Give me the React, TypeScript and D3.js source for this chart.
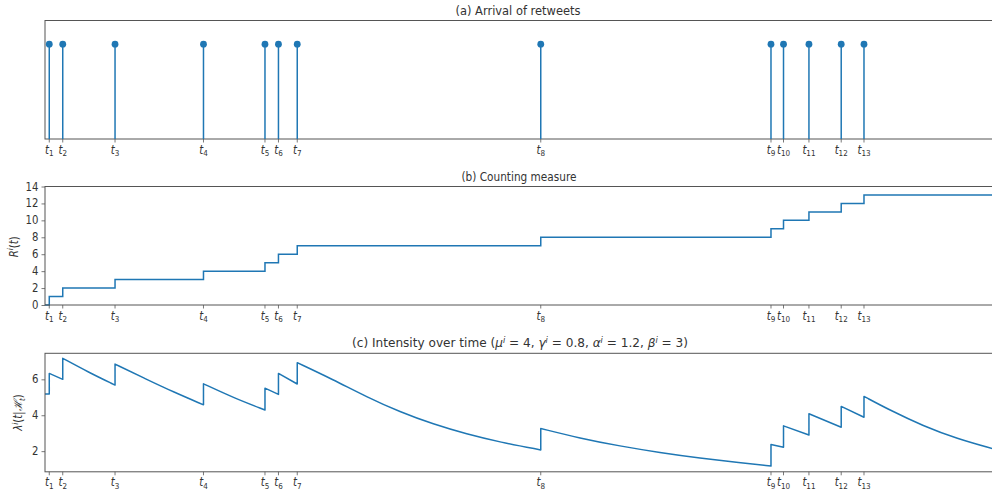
import React, { useEffect, useRef } from 'react';
import * as d3 from 'd3';

// Figure size and the three stacked panels
const W = 992;
const H = 494;
const plotLeft = 45;
const plotRight = 994; // right spine falls just outside the picture
const panelTops = [20.5, 186.5, 353.3];
const panelHeight = 118.5;
const blue = '#1f77b4';
const spine = '#555';
const squeeze = 0.88; // text in the picture is horizontally condensed

// Arrival times of the retweets (x axis units, 0..100)
const eventTimes = [0.45, 1.87, 7.38, 16.7, 23.18, 24.6, 26.58, 52.24, 76.5, 77.82, 80.5, 83.9, 86.3];
const eventLabels = ['1', '2', '3', '4', '5', '6', '7', '8', '9', '10', '11', '12', '13'];
const xDomain = [0, 100];

// (b) counting measure
const counts = [1, 2, 3, 4, 5, 6, 7, 8, 9, 10, 11, 12, 13];
const countTicks = [0, 2, 4, 6, 8, 10, 12, 14];
const countDomain = [0, 14];

// (c) intensity; repeated x = jump at an arrival
const intensityPoints: [number, number][] = [
    [0, 5.18], [0.45, 5.18],
    [0.45, 6.33], [1.87, 6.0],
    [1.87, 7.17], [4.64, 6.38], [7.38, 5.68],
    [7.38, 6.85], [10.5, 6.05], [13.6, 5.28], [16.7, 4.58],
    [16.7, 5.75], [19.92, 4.96], [23.18, 4.29],
    [23.18, 5.51], [24.6, 5.16],
    [24.6, 6.33], [26.58, 5.74],
    [26.58, 6.93], [30.38, 5.98], [33.9, 5.02], [37.41, 4.18], [40.92, 3.5], [44.44, 2.95], [47.95, 2.5], [52.24, 2.07],
    [52.24, 3.26], [56.37, 2.72], [60.59, 2.28], [64.8, 1.92], [69.02, 1.61], [73.23, 1.35], [76.5, 1.17],
    [76.5, 2.37], [77.82, 2.22],
    [77.82, 3.41], [80.5, 2.9],
    [80.5, 4.08], [83.9, 3.33],
    [83.9, 4.49], [86.3, 3.89],
    [86.3, 5.05], [89.04, 4.28], [92.55, 3.4], [96.07, 2.7], [100, 2.12]
];
const intensityTicks = [2, 4, 6];
const intensityDomain = [0.85, 7.45];

const App = () => {
    const svgRef = useRef<SVGSVGElement>(null);

    useEffect(() => {
        const svg = d3.select(svgRef.current);
        svg.selectAll('*').remove();

        const x = d3.scaleLinear().domain(xDomain).range([plotLeft, plotRight]);

        // text helper: horizontal squeeze around the anchor point
        const addText = (g: any, tx: number, ty: number, anchor: string, size: number, rotate = 0) =>
            g.append('text')
                .attr('transform', `translate(${tx},${ty}) rotate(${rotate}) scale(${squeeze},1)`)
                .attr('text-anchor', anchor)
                .style('font-family', 'DejaVu Sans, sans-serif')
                .style('font-size', `${size}px`)
                .style('fill', '#333');

        // titles: fit the measured width from the picture
        const fitWidth = (t: any, tx: number, ty: number, width: number) => {
            const len = (t.node() as SVGTextElement).getComputedTextLength();
            t.attr('transform', `translate(${tx},${ty}) scale(${width / len},1)`);
        };

        svg.append('defs').append('clipPath').attr('id', 'plotclip')
            .append('rect').attr('x', plotLeft).attr('y', 0).attr('width', plotRight - plotLeft).attr('height', H);

        const drawFrame = (top: number) => {
            svg.append('rect')
                .attr('x', plotLeft).attr('y', top)
                .attr('width', plotRight - plotLeft).attr('height', panelHeight)
                .attr('fill', 'none').attr('stroke', spine).attr('stroke-width', 1);
        };

        const drawEventAxis = (top: number) => {
            const base = top + panelHeight;
            eventTimes.forEach((t, i) => {
                svg.append('line')
                    .attr('x1', x(t)).attr('x2', x(t))
                    .attr('y1', base).attr('y2', base + 3.5)
                    .attr('stroke', spine).attr('stroke-width', 0.8);
                const lab = addText(svg, x(t), base + 14.5, 'middle', 11.5);
                lab.append('tspan').style('font-style', 'italic').text('t');
                lab.append('tspan').attr('dy', 2.8).style('font-size', '8.2px').text(eventLabels[i]);
            });
        };

        const drawYAxis = (y: any, ticks: number[]) => {
            svg.append('g')
                .attr('transform', `translate(${plotLeft},0)`)
                .call(d3.axisLeft(y).tickValues(ticks).tickSize(3.5).tickPadding(2).tickFormat(d3.format('d')))
                .call((g: any) => g.select('.domain').remove())
                .call((g: any) => g.selectAll('line').attr('stroke', spine).attr('stroke-width', 0.8))
                .call((g: any) => g.selectAll('text').remove());
            ticks.forEach(v => {
                addText(svg, plotLeft - 6.5, y(v) + 4, 'end', 11.5).text(String(v));
            });
        };

        // (a) Arrival of retweets
        const topA = panelTops[0];
        const yA = d3.scaleLinear().domain([0, 1.25]).range([topA + panelHeight, topA]);
        drawFrame(topA);
        const stems = svg.append('g').attr('clip-path', 'url(#plotclip)');
        stems.selectAll('line').data(eventTimes).join('line')
            .attr('x1', d => x(d)).attr('x2', d => x(d))
            .attr('y1', yA(0)).attr('y2', yA(1))
            .attr('stroke', blue).attr('stroke-width', 1.5);
        stems.selectAll('circle').data(eventTimes).join('circle')
            .attr('cx', d => x(d)).attr('cy', yA(1)).attr('r', 3.4)
            .attr('fill', blue);
        drawEventAxis(topA);
        const titleA = addText(svg, 518, 15, 'middle', 12.5).text('(a) Arrival of retweets');
        fitWidth(titleA, 518, 15, 125);

        // (b) Counting measure
        const topB = panelTops[1];
        const yB = d3.scaleLinear().domain(countDomain).range([topB + panelHeight, topB]);
        const stepData: [number, number][] = [[xDomain[0], 0], ...eventTimes.map((t, i) => [t, counts[i]] as [number, number]), [xDomain[1], counts[counts.length - 1]]];
        const stepLine = d3.line<[number, number]>().x(d => x(d[0])).y(d => yB(d[1])).curve(d3.curveStepAfter);
        svg.append('path')
            .attr('d', stepLine(stepData))
            .attr('clip-path', 'url(#plotclip)')
            .attr('fill', 'none').attr('stroke', blue).attr('stroke-width', 1.5);
        drawFrame(topB);
        drawYAxis(yB, countTicks);
        drawEventAxis(topB);
        const titleB = addText(svg, 519, 181, 'middle', 12.5).text('(b) Counting measure');
        fitWidth(titleB, 519, 181, 115);
        const labB = addText(svg, 17.5, topB + panelHeight / 2 + 1, 'middle', 11.5, -90);
        labB.append('tspan').style('font-style', 'italic').text('R');
        labB.append('tspan').attr('dy', -4.5).style('font-size', '8px').style('font-style', 'italic').text('i');
        labB.append('tspan').attr('dy', 4.5).text('(');
        labB.append('tspan').style('font-style', 'italic').text('t');
        labB.append('tspan').text(')');

        // (c) Intensity over time
        const topC = panelTops[2];
        const yC = d3.scaleLinear().domain(intensityDomain).range([topC + panelHeight, topC]);
        // split the points at the jumps, draw each decay smoothly, then join them
        const segments: [number, number][][] = [];
        intensityPoints.forEach((p, i) => {
            if (i === 0 || p[0] === intensityPoints[i - 1][0]) segments.push([p]);
            else segments[segments.length - 1].push(p);
        });
        const decay = d3.line<[number, number]>().x(d => x(d[0])).y(d => yC(d[1])).curve(d3.curveBasis);
        const pathD = segments.map((s, i) => {
            const d = decay(s) as string;
            return i === 0 ? d : 'L' + d.slice(1);
        }).join('');
        svg.append('path')
            .attr('d', pathD)
            .attr('clip-path', 'url(#plotclip)')
            .attr('fill', 'none').attr('stroke', blue).attr('stroke-width', 1.5)
            .attr('stroke-linejoin', 'round');
        drawFrame(topC);
        drawYAxis(yC, intensityTicks);
        drawEventAxis(topC);

        const titleC = addText(svg, 520, 347, 'middle', 12.5);
        const greek = [['μ', '4'], ['γ', '0.8'], ['α', '1.2'], ['β', '3']];
        titleC.append('tspan').text('(c) Intensity over time (');
        greek.forEach(([g, v], i) => {
            titleC.append('tspan').style('font-style', 'italic').text(g);
            titleC.append('tspan').attr('dy', -4.5).style('font-size', '8.5px').style('font-style', 'italic').text('i');
            titleC.append('tspan').attr('dy', 4.5).text(` = ${v}${i < greek.length - 1 ? ', ' : ')'}`);
        });
        fitWidth(titleC, 520, 347, 336);

        const labC = addText(svg, 22, topC + panelHeight / 2, 'middle', 11.5, -90);
        labC.append('tspan').style('font-style', 'italic').text('λ');
        labC.append('tspan').attr('dy', -4.5).style('font-size', '8px').style('font-style', 'italic').text('i');
        labC.append('tspan').attr('dy', 4.5).text('(');
        labC.append('tspan').style('font-style', 'italic').text('t');
        labC.append('tspan').text('|');
        labC.append('tspan').style('font-family', 'DejaVu Serif, serif').style('font-style', 'italic').text('ℋ');
        labC.append('tspan').attr('dy', 2.8).style('font-size', '8px').style('font-style', 'italic').text('t');
        labC.append('tspan').attr('dy', -2.8).text(')');
    }, []);

    return (
        <svg ref={svgRef} width={W} height={H}
            style={{ position: 'absolute', left: 0, top: 0, background: '#fff' }}></svg>
    );
};

export default App;
